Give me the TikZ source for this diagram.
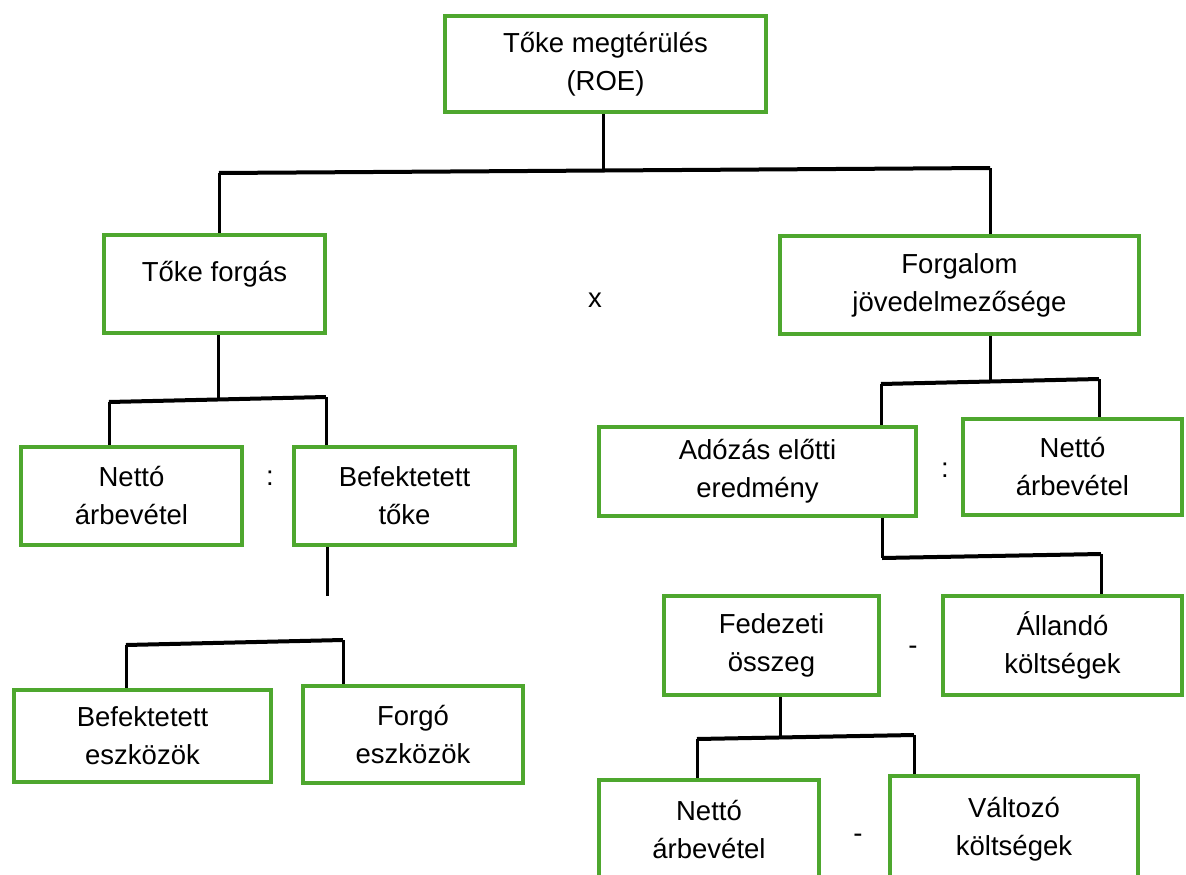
\documentclass[tikz,border=0pt]{standalone}
\usepackage{fontspec}
\setmainfont{Liberation Sans}
\definecolor{boxgreen}{HTML}{4EA72E}
\begin{document}
\begin{tikzpicture}[x=1pt,y=-1pt,
  box/.style={draw=boxgreen,line width=4pt,fill=white,inner sep=0pt,align=center,
    font=\fontsize{27.5}{38}\selectfont},
  txt/.style={inner sep=0pt,align=center,font=\fontsize{27.5}{38}\selectfont},
  conn/.style={draw=black,line width=3pt},
  bar/.style={draw=black,line width=4pt}]
\useasboundingbox (0,0) rectangle (1186,875);
\clip (0,0) rectangle (1186,875);
% boxes
\node[box,minimum width=321pt,minimum height=96pt] (roe) at (605.5,64) {Tőke megtérülés\\(ROE)};
\node[box,minimum width=221pt,minimum height=98pt] (tf) at (214.5,284) {};
\node[txt] (tft) at (214.5,274) {Tőke forgás};
\node[box,minimum width=359pt,minimum height=98pt] (fj) at (959.5,285) {Forgalom\\jövedelmezősége};
\node[box,minimum width=221pt,minimum height=98pt] (na1) at (131.5,496) {Nettó\\árbevétel};
\node[box,minimum width=221pt,minimum height=98pt] (bt) at (404.5,496) {Befektetett\\tőke};
\node[box,minimum width=257pt,minimum height=92pt] (be) at (142.5,736) {Befektetett\\eszközök};
\node[box,minimum width=220pt,minimum height=97pt] (fe) at (413,734.5) {Forgó\\eszközök};
\node[box,minimum width=317pt,minimum height=89pt] (ae) at (757.5,471) {Adózás előtti\\eredmény};
\node[box,minimum width=219pt,minimum height=96pt] (na2) at (1072.5,467) {Nettó\\árbevétel};
\node[box,minimum width=215pt,minimum height=99pt] (fo) at (771.5,645.5) {Fedezeti\\összeg};
\node[box,minimum width=239pt,minimum height=99pt] (ak) at (1062.5,645.5) {Állandó\\költségek};
\node[box,minimum width=220pt,minimum height=100pt] (na3) at (709,830) {Nettó\\árbevétel};
\node[box,minimum width=248pt,minimum height=106pt] (vk) at (1014,829) {Változó\\költségek};
% operators
\node[txt] (op1) at (595,300) {x};
\node[txt] (op2) at (270,478) {:};
\node[txt] (op3) at (945,470) {:};
\node[txt] (op4) at (913,650) {-};
\node[txt] (op5) at (858,838) {-};
% junction coordinates
\coordinate (b1M) at (603,170);
\coordinate (b1L) at (219,173);
\coordinate (b1R) at (990,168);
\coordinate (b2M) at (218,399);
\coordinate (b2L) at (109,402);
\coordinate (b2R) at (326,397);
\coordinate (c1) at (327,596);
\coordinate (b3L) at (126,645);
\coordinate (b3R) at (343,640);
\coordinate (b4M) at (990,381);
\coordinate (b4L) at (881,384);
\coordinate (b4R) at (1099,379);
\coordinate (b5L) at (882,558);
\coordinate (b5R) at (1101,554);
\coordinate (b6M) at (780,737);
\coordinate (b6L) at (697,739);
\coordinate (b6R) at (914,735);
% connectors
\draw[conn] (roe.south -| b1M) -- (b1M);
\draw[bar] (b1L) -- (b1R);
\draw[conn] (b1L) -- (b1L |- tf.north);
\draw[conn] (b1R) -- (b1R |- fj.north);
\draw[conn] (tf.south -| b2M) -- (b2M);
\draw[bar] (b2L) -- (b2R);
\draw[conn] (b2L) -- (b2L |- na1.north);
\draw[conn] (b2R) -- (b2R |- bt.north);
\draw[conn] (bt.south -| c1) -- (c1);
\draw[bar] (b3L) -- (b3R);
\draw[conn] (b3L) -- (b3L |- be.north);
\draw[conn] (b3R) -- (b3R |- fe.north);
\draw[conn] (fj.south -| b4M) -- (b4M);
\draw[bar] (b4L) -- (b4R);
\draw[conn] (b4L) -- (b4L |- ae.north);
\draw[conn] (b4R) -- (b4R |- na2.north);
\draw[conn] (ae.south -| b5L) -- (b5L);
\draw[bar] (b5L) -- (b5R);
\draw[conn] (b5R) -- (b5R |- ak.north);
\draw[conn] (fo.south -| b6M) -- (b6M);
\draw[bar] (b6L) -- (b6R);
\draw[conn] (b6L) -- (b6L |- na3.north);
\draw[conn] (b6R) -- (b6R |- vk.north);
\end{tikzpicture}
\end{document}
